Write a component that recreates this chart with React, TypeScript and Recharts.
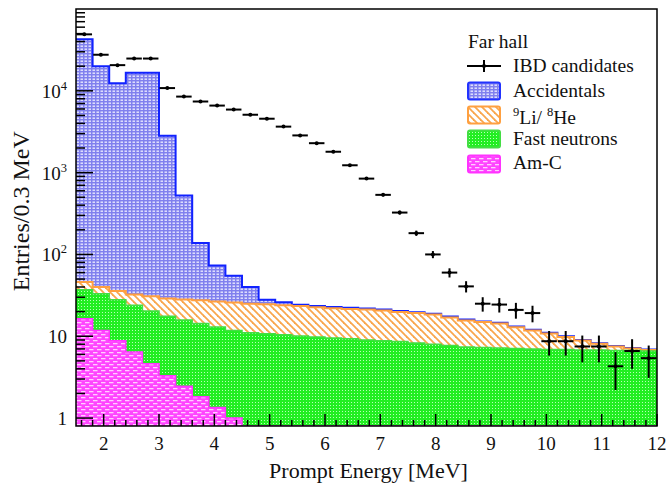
import { Area, ComposedChart, ErrorBar, Legend, ReferenceArea, Scatter, XAxis, YAxis } from 'recharts';

// bin lower edges (0.3 MeV bins), last bin closes at 12 MeV
const binLow = [
  1.5, 1.8, 2.1, 2.4, 2.7, 3.0, 3.3, 3.6, 3.9, 4.2, 4.5, 4.8, 5.1, 5.4, 5.7, 6.0, 6.3, 6.6,
  6.9, 7.2, 7.5, 7.8, 8.1, 8.4, 8.7, 9.0, 9.3, 9.6, 9.9, 10.2, 10.5, 10.8, 11.1, 11.4, 11.7,
];
const binEnd = 12;
const halfBin = 0.15;

// IBD candidates per bin and their statistical errors
const ibd = [
  49000, 27600, 20600, 24800, 24800, 10800, 8500, 7400, 6600, 5900, 5100, 4560, 3650, 2850,
  2290, 1800, 1230, 845, 535, 325, 182, 100, 60, 40.7, 25, 24.4, 21, 19.2, 8.7, 8.7, 7.5, 7.5,
  4.3, 6.6, 5.4,
];
const ibdErr = [
  221, 166, 144, 157, 157, 104, 92, 86, 81, 77, 71, 68, 60, 53, 48, 42, 35, 29, 23, 18, 13.5,
  10, 7.7, 6.4, 5, 4.9, 4.6, 4.4, 2.9, 2.9, 2.7, 2.7, 2.1, 2.6, 2.3,
];

// background components (stacked: Am-C, fast neutrons, Li/He, accidentals)
const amc = [
  16.4, 11.8, 8.8, 6.4, 4.6, 3.3, 2.45, 1.82, 1.35, 1.0, 0, 0, 0, 0, 0, 0, 0, 0, 0, 0, 0, 0, 0,
  0, 0, 0, 0, 0, 0, 0, 0, 0, 0, 0, 0,
];
const fastN = [
  20.6, 21.2, 19.2, 17.6, 15.7, 14.3, 13.3, 12.5, 11.6, 10.8, 11.0, 10.7, 10.4, 10.1, 9.8, 9.5,
  9.3, 9.0, 8.8, 8.6, 8.3, 8.0, 7.7, 7.4, 7.3, 7.2, 7.1, 7.0, 6.9, 6.9, 6.8, 6.8, 6.7, 6.7, 6.6,
];
const liHe = [
  9, 7, 7.7, 8.5, 10.5, 11.4, 12.3, 13.2, 13.6, 14, 14, 13.9, 13.6, 13.3, 12.9, 12.5, 12.3, 12.3,
  11.8, 11.2, 10.9, 10.4, 9.3, 8.2, 7.6, 7.1, 5.8, 4.8, 3.9, 2.9, 2.1, 1.3, 0.8, 0.4, 0.2,
];
const accidentals = [
  42550, 19960, 12360, 16570, 16570, 2800, 497, 110, 46.5, 29, 15, 3.4, 2.0, 0.8, 0.8, 0.8, 0.7,
  0.6, 0.6, 0.6, 0.5, 0.5, 0.4, 0.4, 0.3, 0.3, 0.3, 0.2, 0.2, 0.2, 0.1, 0.1, 0.1, 0.1, 0.1,
];

const Y_MIN = 0.8;
const Y_MAX = 100000;
const yMajor = [1, 10, 100, 1000, 10000];
const yTicks = yMajor.flatMap((d) => [1, 2, 3, 4, 5, 6, 7, 8, 9].map((m) => d * m));
const xTicks = Array.from({ length: 53 }, (_, i) => Math.round((1.6 + 0.2 * i) * 10) / 10);

const FONT = '"Liberation Serif", "Times New Roman", serif';

// step rows: one per bin low edge, plus a closing row at 12 MeV
const histRows = [...binLow, binEnd].map((x, i) => {
  const k = Math.min(i, binLow.length - 1);
  const amcTop = amc[k];
  const fnTop = amcTop + fastN[k];
  const liTop = fnTop + liHe[k];
  const accTop = liTop + accidentals[k];
  return { x, amcTop: amcTop > 0 ? amcTop : Y_MIN, fnTop, liTop, accTop };
});

const ibdRows = binLow.map((lo, i) => ({ x: lo + halfBin, n: ibd[i], nErr: ibdErr[i], xErr: 0.14 }));

function XTick(props: any) {
  const { x, y, payload } = props;
  const v = payload.value;
  const major = Number.isInteger(v);
  return (
    <g>
      <line x1={x} x2={x} y1={y} y2={y - (major ? 12 : 6)} stroke="#000" strokeWidth={1.5} />
      {major && (
        <text x={x} y={y + 24} textAnchor="middle" fontSize={19} fill="#111" fontFamily={FONT}>
          {v}
        </text>
      )}
    </g>
  );
}

function YTick(props: any) {
  const { x, y, payload } = props;
  const v = payload.value;
  const major = yMajor.includes(v);
  const exp = Math.round(Math.log10(v));
  return (
    <g>
      <line x1={x} x2={x + (major ? 17 : 9)} y1={y} y2={y} stroke="#000" strokeWidth={1.5} />
      {major && (
        <text x={x - 9} y={y + 7} textAnchor="end" fontSize={19} fill="#111" fontFamily={FONT}>
          {exp < 2 ? (
            String(v)
          ) : (
            <>
              10
              <tspan dy={-8} fontSize={12.5}>
                {exp}
              </tspan>
            </>
          )}
        </text>
      )}
    </g>
  );
}

const legendItems = [
  { key: 'acc', label: <>Accidentals</>, fill: 'url(#patAcc)', stroke: '#2233ff' },
  {
    key: 'li',
    label: (
      <>
        <sup style={{ fontSize: 12.5 }}>9</sup>Li/ <sup style={{ fontSize: 12.5 }}>8</sup>He
      </>
    ),
    fill: 'url(#patLi)',
    stroke: '#ffa040',
  },
  { key: 'fn', label: <>Fast neutrons</>, fill: 'url(#patFn)', stroke: '#44dd44' },
  { key: 'amc', label: <>Am-C</>, fill: 'url(#patAmc)', stroke: '#ff33ff' },
];

function LegendBox() {
  const row = { display: 'flex', alignItems: 'center', height: 24.3 } as const;
  return (
    <div style={{ fontSize: 19.5, color: '#111', fontFamily: FONT, lineHeight: '24.3px' }}>
      <div style={{ paddingLeft: 6, height: 24.3 }}>Far hall</div>
      <div style={row}>
        <svg width={36} height={20} style={{ marginLeft: 4 }}>
          <line x1={1} x2={35} y1={10} y2={10} stroke="#000" strokeWidth={2} />
          <line x1={18} x2={18} y1={4} y2={16} stroke="#000" strokeWidth={2} />
          <circle cx={18} cy={10} r={2} fill="#000" />
        </svg>
        <span style={{ marginLeft: 11 }}>IBD candidates</span>
      </div>
      {legendItems.map((it) => (
        <div key={it.key} style={row}>
          <svg width={36} height={20} style={{ marginLeft: 4 }}>
            <rect x={2} y={1.5} width={32} height={17} rx={2} fill={it.fill} stroke={it.stroke} strokeWidth={2} />
          </svg>
          <span style={{ marginLeft: 11 }}>{it.label}</span>
        </div>
      ))}
    </div>
  );
}

export default function App() {
  return (
    <div
      style={{
        position: 'absolute',
        left: 0,
        top: 0,
        width: 666,
        height: 489,
        background: '#fff',
        fontFamily: FONT,
      }}
    >
      <ComposedChart width={666} height={489} data={histRows} margin={{ top: 9, right: 9, bottom: 0, left: 0 }}>
        <defs>
          <pattern id="patAcc" width={4} height={3} patternUnits="userSpaceOnUse">
            <rect width={4} height={3} fill="#8080ee" />
            <rect x={0.5} y={0.5} width={2.5} height={1.4} fill="#e8e8ff" />
          </pattern>
          <pattern id="patLi" width={7} height={7} patternUnits="userSpaceOnUse">
            <rect width={7} height={7} fill="#fff" />
            <line x1={0} y1={0} x2={7} y2={7} stroke="#f9a64c" strokeWidth={1.8} />
            <line x1={-1} y1={6} x2={1} y2={8} stroke="#f9a64c" strokeWidth={1.8} />
            <line x1={6} y1={-1} x2={8} y2={1} stroke="#f9a64c" strokeWidth={1.8} />
          </pattern>
          <pattern id="patFn" width={3} height={3} patternUnits="userSpaceOnUse">
            <rect width={3} height={3} fill="#22ee22" />
            <rect x={0} y={0} width={1} height={1} fill="#b8ffb8" />
          </pattern>
          <pattern id="patAmc" width={8} height={6} patternUnits="userSpaceOnUse">
            <rect width={8} height={6} fill="#ff44ff" />
            <rect x={1} y={1} width={4.5} height={1.3} fill="#ffd0ff" />
            <rect x={5} y={4} width={4.5} height={1.3} fill="#ffd0ff" />
            <rect x={-3} y={4} width={4.5} height={1.3} fill="#ffd0ff" />
          </pattern>
        </defs>

        <Area
          dataKey="accTop"
          type="stepAfter"
          baseValue={Y_MIN}
          fill="url(#patAcc)"
          fillOpacity={1}
          stroke="#1122ff"
          strokeWidth={2}
          dot={false}
          activeDot={false}
          isAnimationActive={false}
        />
        <Area
          dataKey="liTop"
          type="stepAfter"
          baseValue={Y_MIN}
          fill="url(#patLi)"
          fillOpacity={1}
          stroke="#ffa040"
          strokeWidth={2}
          dot={false}
          activeDot={false}
          isAnimationActive={false}
        />
        <Area
          dataKey="fnTop"
          type="stepAfter"
          baseValue={Y_MIN}
          fill="url(#patFn)"
          fillOpacity={1}
          stroke="#44dd44"
          strokeWidth={1.5}
          dot={false}
          activeDot={false}
          isAnimationActive={false}
        />
        <Area
          dataKey="amcTop"
          type="stepAfter"
          baseValue={Y_MIN}
          fill="url(#patAmc)"
          fillOpacity={1}
          stroke="#ff33ff"
          strokeWidth={1.5}
          dot={false}
          activeDot={false}
          isAnimationActive={false}
        />

        <Scatter
          data={ibdRows}
          dataKey="n"
          isAnimationActive={false}
          shape={(p: any) => <circle cx={p.cx} cy={p.cy} r={2} fill="#000" />}
        >
          <ErrorBar dataKey="nErr" direction="y" width={0} stroke="#000" strokeWidth={2} isAnimationActive={false} />
          <ErrorBar dataKey="xErr" direction="x" width={0} stroke="#000" strokeWidth={2} isAnimationActive={false} />
        </Scatter>

        <XAxis
          dataKey="x"
          type="number"
          domain={[1.5, 12]}
          allowDataOverflow
          ticks={xTicks}
          interval={0}
          tick={<XTick />}
          tickLine={false}
          tickSize={0}
          tickMargin={0}
          axisLine={false}
          height={63}
          label={{
            content: (p: any) => {
              const vb = p.viewBox;
              return (
                <text x={vb.x + vb.width / 2 + 2} y={vb.y + 52} textAnchor="middle" fontSize={22} fill="#111" fontFamily={FONT}>
                  Prompt Energy [MeV]
                </text>
              );
            },
          }}
        />
        <YAxis
          type="number"
          scale="log"
          domain={[Y_MIN, Y_MAX]}
          allowDataOverflow
          ticks={yTicks}
          interval={0}
          tick={<YTick />}
          tickLine={false}
          tickSize={0}
          tickMargin={0}
          axisLine={false}
          width={76}
          label={{
            content: (p: any) => {
              const vb = p.viewBox;
              const cy = vb.y + vb.height * 0.485;
              return (
                <text
                  x={29}
                  y={cy}
                  transform={`rotate(-90, 29, ${cy})`}
                  textAnchor="middle"
                  fontSize={24}
                  fill="#111"
                  fontFamily={FONT}
                >
                  Entries/0.3 MeV
                </text>
              );
            },
          }}
        />

        <ReferenceArea x1={1.5} x2={12} y1={Y_MIN} y2={Y_MAX} fill="none" fillOpacity={0} stroke="#000" strokeWidth={1.5} />

        <Legend
          layout="vertical"
          align="center"
          verticalAlign="middle"
          content={<LegendBox />}
          wrapperStyle={{ left: 462, top: 30, width: 200 }}
        />
      </ComposedChart>
    </div>
  );
}
